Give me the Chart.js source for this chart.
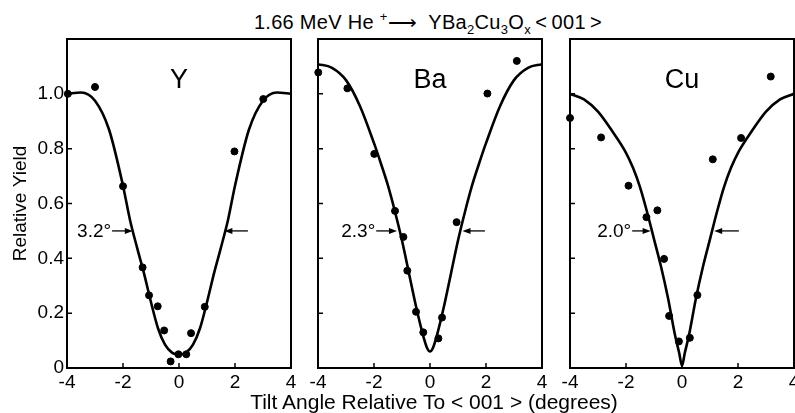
<!DOCTYPE html>
<html>
<head>
<meta charset="utf-8">
<script src="https://cdn.jsdelivr.net/npm/chart.js@4.4.0/dist/chart.umd.min.js"></script>
<style>
  html, body { margin: 0; padding: 0; background: #fff; width: 795px; height: 413px; overflow: hidden; position: relative; }
  .panel { position: absolute; top: 0; }
  .txt { position: absolute; left: 0; width: 860px; text-align: center; color: #000; white-space: nowrap;
         font-family: "Liberation Sans", Arial, sans-serif; }
  #title { top: 12px; font-size: 20px; line-height: 20px; width: 856px; letter-spacing: 0.3px; }
  #title sub, #title sup { font-size: 13px; line-height: 0; }
  #xtitle { top: 391px; font-size: 21px; line-height: 22px; width: 868px; }
</style>
</head>
<body>
<div id="title" class="txt">1.66 MeV He <sup>+</sup>⟶&nbsp; YBa<sub>2</sub>Cu<sub>3</sub>O<sub>x</sub>&thinsp;&lt;&thinsp;001&thinsp;&gt;</div>
<canvas id="cY" class="panel" style="left:0" width="302" height="413"></canvas>
<canvas id="cBa" class="panel" style="left:302px" width="250" height="413"></canvas>
<canvas id="cCu" class="panel" style="left:552px" width="260" height="413"></canvas>
<div id="xtitle" class="txt">Tilt Angle Relative To &lt; 001 &gt; (degrees)</div>
<script>
// tilt angles (degrees) where the fitted curves are read
const angles = [-4, -3.5, -3, -2.5, -2, -1.75, -1.5, -1.25, -1, -0.75, -0.5, -0.25, -0.1, 0,
                0.1, 0.25, 0.5, 0.75, 1, 1.25, 1.5, 1.75, 2, 2.5, 3, 3.5, 4];

// fitted curves (relative yield)
const yFit  = [1.0, 1.005, 0.975, 0.87, 0.665, 0.54, 0.44, 0.345, 0.24, 0.145, 0.085, 0.056, 0.05, 0.049,
               0.05, 0.056, 0.085, 0.145, 0.24, 0.345, 0.44, 0.54, 0.665, 0.87, 0.975, 1.005, 1.0];
const baFit = [1.108, 1.095, 1.05, 0.955, 0.82, 0.745, 0.665, 0.57, 0.465, 0.345, 0.225, 0.12, 0.072, 0.06,
               0.072, 0.12, 0.225, 0.345, 0.465, 0.57, 0.665, 0.745, 0.82, 0.955, 1.05, 1.095, 1.108];
const cuFit = [1.0, 0.98, 0.935, 0.865, 0.785, 0.73, 0.66, 0.57, 0.47, 0.37, 0.255, 0.12, 0.055, 0.008,
               0.055, 0.12, 0.255, 0.37, 0.47, 0.57, 0.66, 0.73, 0.785, 0.865, 0.935, 0.98, 1.0];

// measured points
const yDotX  = [-3.97, -3, -2, -1.3, -1.07, -0.76, -0.53, -0.3, -0.02, 0.26, 0.43, 0.92, 1.98, 3.01];
const yDotY  = [1.0, 1.025, 0.663, 0.367, 0.265, 0.225, 0.137, 0.024, 0.05, 0.05, 0.127, 0.223, 0.79, 0.981];
const baDotX = [-3.99, -2.95, -1.99, -1.25, -0.95, -0.81, -0.5, -0.24, 0.3, 0.43, 0.95, 2.05, 3.1];
const baDotY = [1.078, 1.02, 0.781, 0.573, 0.478, 0.355, 0.205, 0.13, 0.108, 0.184, 0.532, 1.001, 1.12];
const cuDotX = [-4.0, -2.89, -1.91, -1.27, -0.88, -0.64, -0.46, -0.11, 0.28, 0.55, 1.1, 2.11, 3.17];
const cuDotY = [0.912, 0.841, 0.665, 0.55, 0.575, 0.398, 0.19, 0.097, 0.11, 0.266, 0.761, 0.839, 1.063];

// tick labels
const xTickVals = [-4, -2, 0, 2, 4];
const yTickVals = [0, 0.2, 0.4, 0.6, 0.8, 1.0];

const FONT = '"Liberation Sans", Arial, sans-serif';
Chart.defaults.font.family = FONT;
Chart.defaults.color = '#000';

function arrow(ctx, x0, x1, py) {
  const dir = Math.sign(x1 - x0);
  ctx.beginPath();
  ctx.moveTo(x0, py);
  ctx.lineTo(x1 - dir * 6, py);
  ctx.stroke();
  ctx.beginPath();
  ctx.moveTo(x1, py);
  ctx.lineTo(x1 - dir * 8, py - 3);
  ctx.lineTo(x1 - dir * 8, py + 3);
  ctx.closePath();
  ctx.fill();
}

// frame, inward ticks, element name and width markers
const panelDecor = {
  id: 'panelDecor',
  afterDraw(chart, args, opts) {
    const { ctx, chartArea: a } = chart;
    const x = chart.scales.x, y = chart.scales.y;
    ctx.save();
    ctx.strokeStyle = '#000';
    ctx.fillStyle = '#000';
    ctx.lineWidth = 2;
    ctx.strokeRect(a.left, a.top, a.right - a.left, a.bottom - a.top);

    ctx.lineWidth = 1.5;
    ctx.beginPath();
    xTickVals.slice(1, -1).forEach(v => {
      const px = x.getPixelForValue(v);
      ctx.moveTo(px, a.bottom);
      ctx.lineTo(px, a.bottom - 5);
    });
    yTickVals.slice(1).forEach(v => {
      const py = y.getPixelForValue(v);
      ctx.moveTo(a.left, py);
      ctx.lineTo(a.left + 5, py);
    });
    ctx.stroke();

    ctx.font = '27px ' + FONT;
    ctx.textAlign = 'center';
    ctx.textBaseline = 'middle';
    ctx.fillText(opts.element, x.getPixelForValue(0), y.getPixelForValue(1.05));

    const py = y.getPixelForValue(0.5);
    ctx.lineWidth = 1.3;
    const l0 = x.getPixelForValue(opts.left[0]);
    arrow(ctx, l0, x.getPixelForValue(opts.left[1]), py);
    arrow(ctx, x.getPixelForValue(opts.right[0]), x.getPixelForValue(opts.right[1]), py);
    ctx.font = '19px ' + FONT;
    ctx.textAlign = 'right';
    ctx.fillText(opts.width, l0 - 1, py + 1);
    ctx.restore();
  }
};

function makePanel(id, fit, dotX, dotY, deco, pad, showY) {
  const ctx = document.getElementById(id).getContext('2d');
  return new Chart(ctx, {
    type: 'scatter',
    data: {
      datasets: [
        {
          type: 'line',
          data: angles.map((a, i) => ({ x: a, y: fit[i] })),
          borderColor: '#000',
          borderWidth: 2.6,
          pointRadius: 0,
          cubicInterpolationMode: 'monotone',
          fill: false
        },
        {
          data: dotX.map((a, i) => ({ x: a, y: dotY[i] })),
          backgroundColor: '#000',
          borderColor: '#000',
          pointRadius: 3.5,
          clip: 10
        }
      ]
    },
    options: {
      responsive: false,
      animation: false,
      devicePixelRatio: 1,
      layout: { padding: { top: 39, left: pad[0], right: pad[1], bottom: 0 } },
      plugins: {
        legend: { display: false },
        tooltip: { enabled: false },
        panelDecor: deco
      },
      scales: {
        x: {
          type: 'linear',
          min: -4, max: 4,
          afterBuildTicks: s => { s.ticks = xTickVals.map(v => ({ value: v })); },
          afterFit: s => { s.height = 45; },
          grid: { display: false, drawTicks: false },
          border: { display: false },
          ticks: { font: { size: 19 }, padding: 3, maxRotation: 0, autoSkip: false }
        },
        y: {
          type: 'linear',
          min: 0, max: 1.2,
          display: showY,
          afterBuildTicks: s => { s.ticks = yTickVals.map(v => ({ value: v })); },
          afterFit: s => { s.width = showY ? 67 : 0; },
          grid: { display: false, drawTicks: false },
          border: { display: false },
          ticks: {
            font: { size: 19 },
            padding: 3,
            callback: v => (v === 0 ? '0' : v.toFixed(1))
          },
          title: {
            display: true,
            text: 'Relative Yield',
            font: { size: 19 },
            padding: { top: 9, bottom: 0 }
          }
        }
      }
    },
    plugins: [panelDecor]
  });
}

makePanel('cY', yFit, yDotX, yDotY,
  { element: 'Y', width: '3.2°', left: [-2.39, -1.65], right: [2.46, 1.62] },
  [0, 11], true);
makePanel('cBa', baFit, baDotX, baDotY,
  { element: 'Ba', width: '2.3°', left: [-1.92, -1.18], right: [1.96, 1.16] },
  [16, 10], false);
makePanel('cCu', cuFit, cuDotX, cuDotY,
  { element: 'Cu', width: '2.0°', left: [-1.78, -1.12], right: [2.03, 1.15] },
  [18, 18], false);
</script>
</body>
</html>
